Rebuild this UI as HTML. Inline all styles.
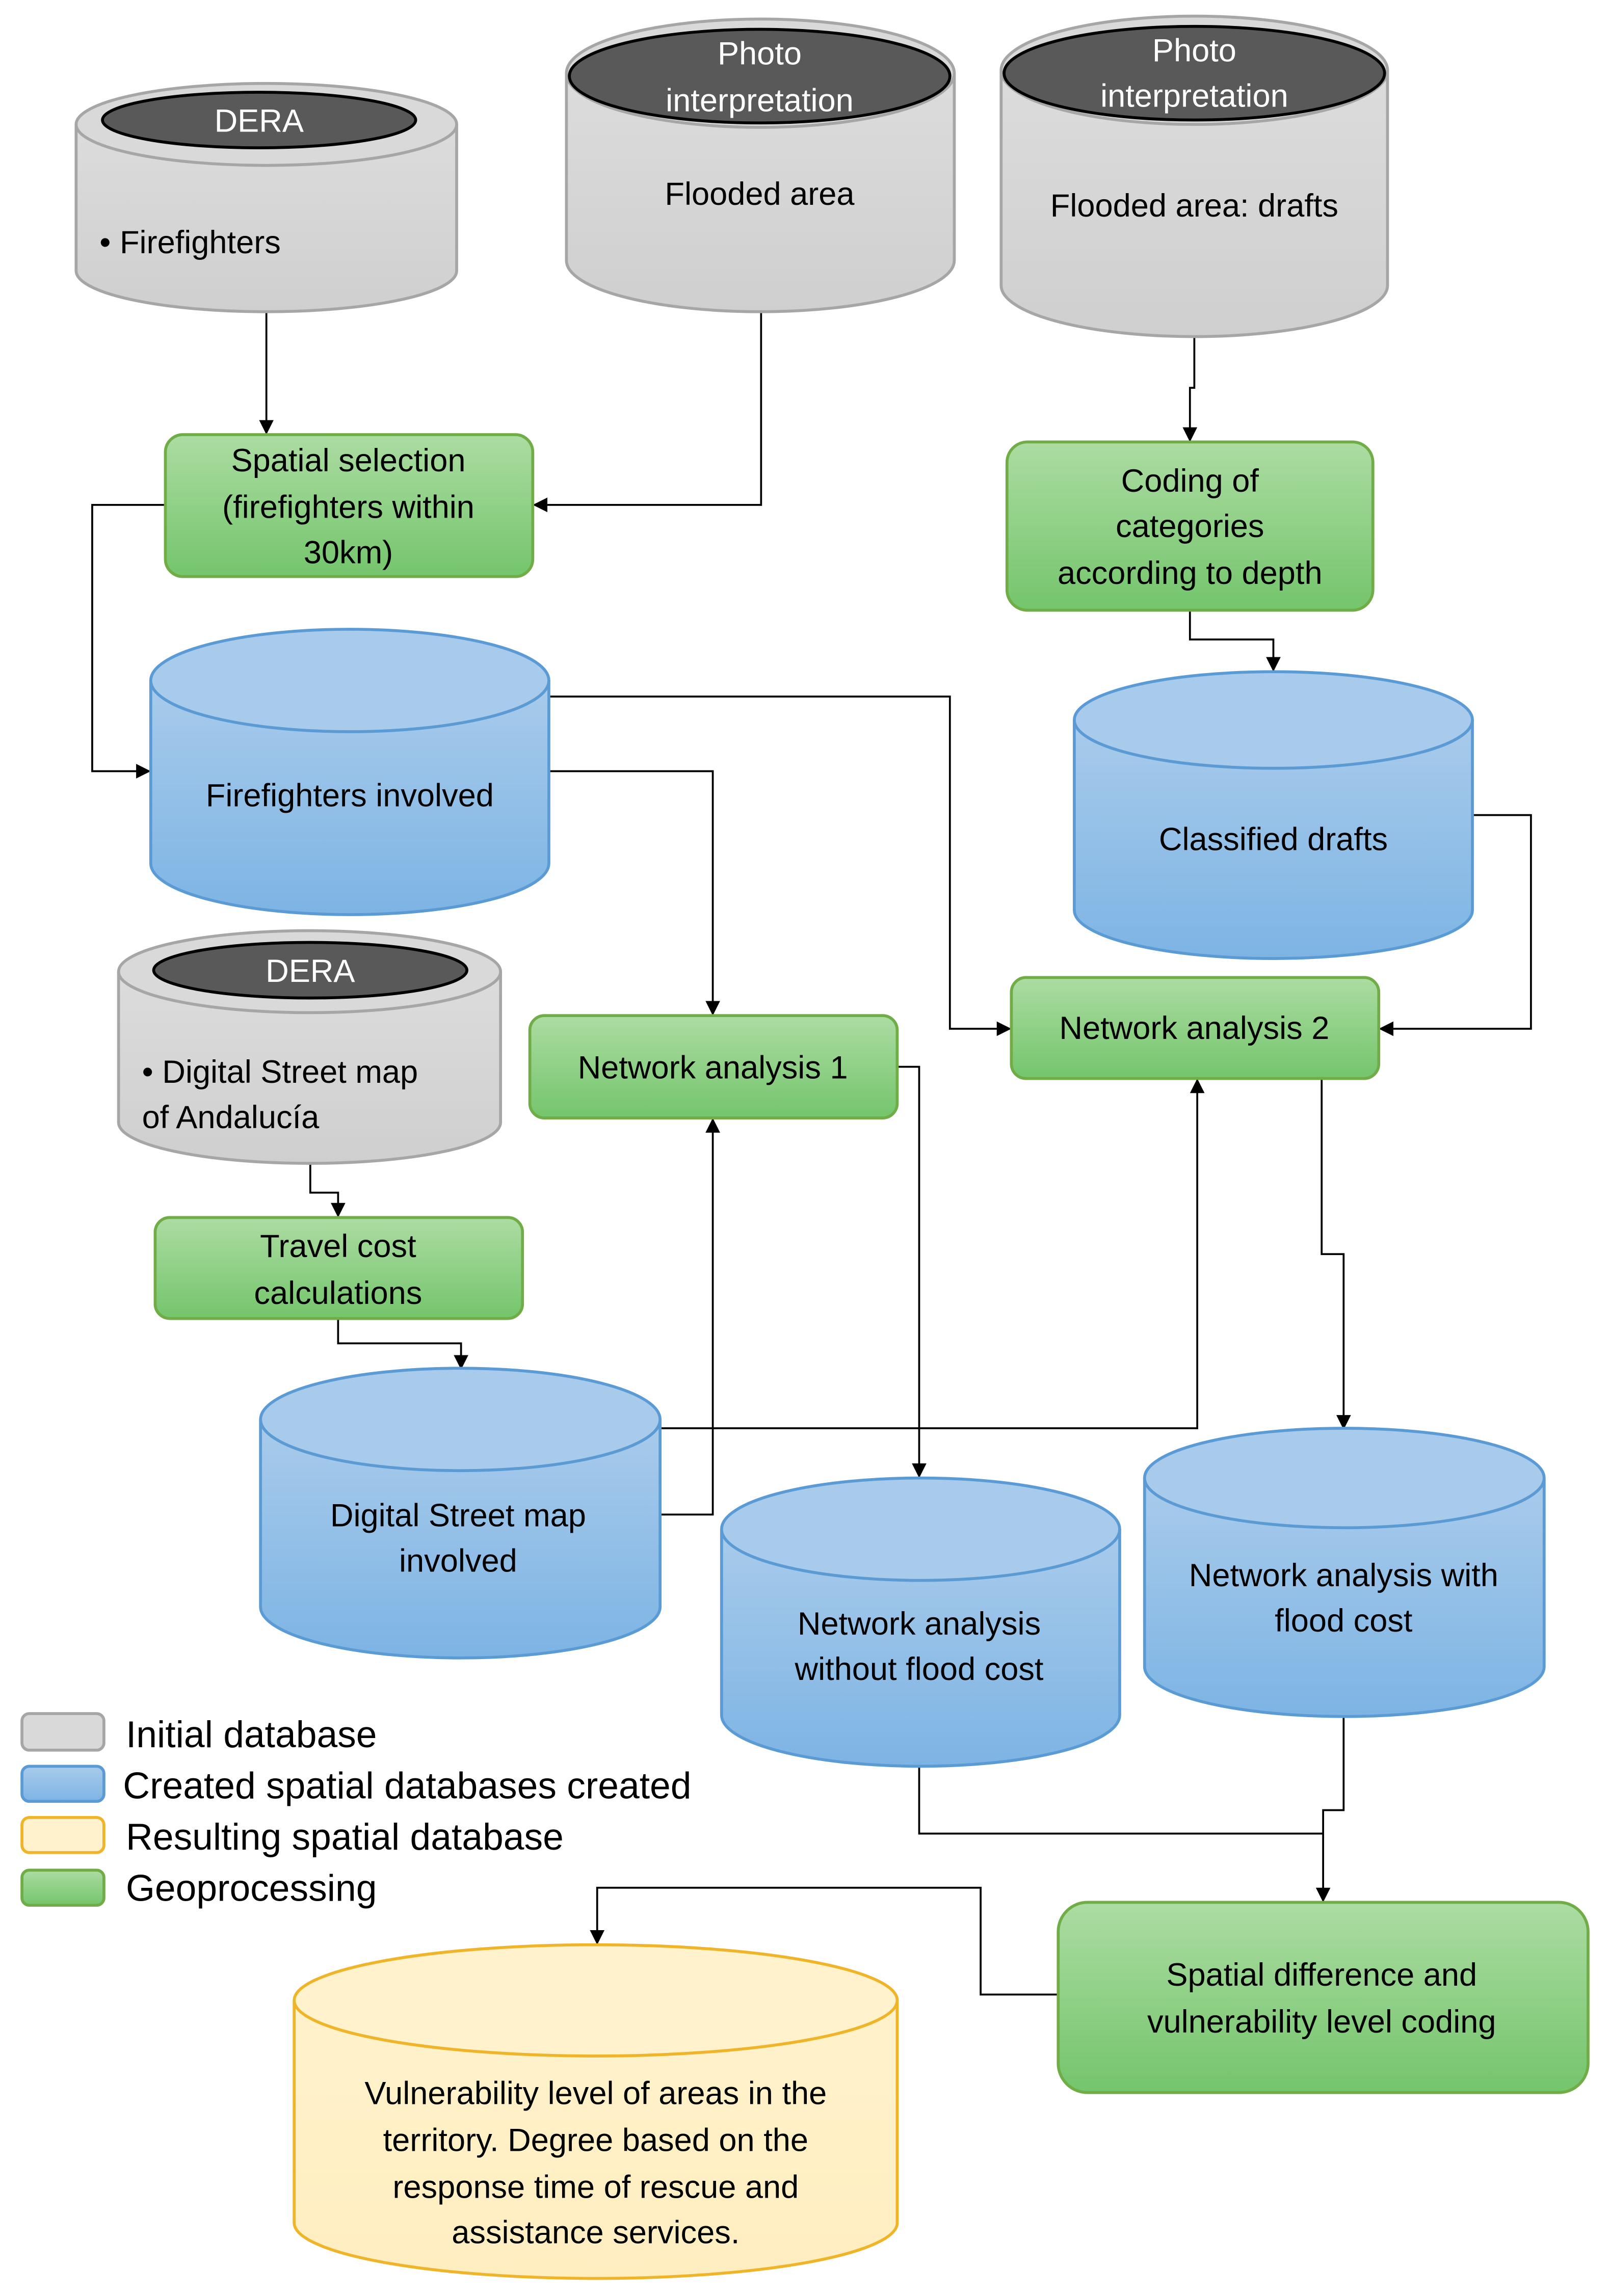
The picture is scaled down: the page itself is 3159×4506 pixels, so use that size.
<!DOCTYPE html>
<html><head><meta charset="utf-8">
<style>
html,body{margin:0;padding:0;background:#fff;}
svg{display:block;}
text{font-family:"Liberation Sans",sans-serif;font-size:22px;fill:#000;text-anchor:middle;}
</style></head>
<body>
<svg width="3159" height="4506" viewBox="0 0 1100 1569" xmlns="http://www.w3.org/2000/svg">
<defs>
<linearGradient id="gray" x1="0" y1="0" x2="0" y2="1"><stop offset="0" stop-color="#dcdcdc"/><stop offset="1" stop-color="#cfcfcf"/></linearGradient>
<linearGradient id="blue" x1="0" y1="0" x2="0" y2="1"><stop offset="0" stop-color="#a9cbeb"/><stop offset="1" stop-color="#7db4e4"/></linearGradient>
<linearGradient id="green" x1="0" y1="0" x2="0" y2="1"><stop offset="0" stop-color="#acdca2"/><stop offset="1" stop-color="#74c56c"/></linearGradient>
<linearGradient id="yel" x1="0" y1="0" x2="0" y2="1"><stop offset="0" stop-color="#fff2cc"/><stop offset="1" stop-color="#ffeec0"/></linearGradient>
<marker id="ar" markerWidth="10" markerHeight="10" refX="9" refY="5" orient="auto" markerUnits="userSpaceOnUse"><path d="M0,0 L10,5 L0,10 z" fill="#000"/></marker>
</defs>

<g fill="none" stroke="#000" stroke-width="1.3">
<path d="M182,213 V296" marker-end="url(#ar)"/>
<path d="M520,213 V345 H365" marker-end="url(#ar)"/>
<path d="M113,345 H63 V527 H102" marker-end="url(#ar)"/>
<path d="M816,230 V265 H813 V301" marker-end="url(#ar)"/>
<path d="M813,417 V437 H870 V458" marker-end="url(#ar)"/>
<path d="M375,476 H649 V703 H690" marker-end="url(#ar)"/>
<path d="M375,527 H487 V693" marker-end="url(#ar)"/>
<path d="M1006,557 H1046 V703 H943" marker-end="url(#ar)"/>
<path d="M212,795 V815 H231 V831" marker-end="url(#ar)"/>
<path d="M231,901 V918 H315 V935" marker-end="url(#ar)"/>
<path d="M451,976 H818 V738" marker-end="url(#ar)"/>
<path d="M451,1035 H487 V765" marker-end="url(#ar)"/>
<path d="M613,729 H628 V1009" marker-end="url(#ar)"/>
<path d="M903,737 V857 H918 V976" marker-end="url(#ar)"/>
<path d="M628,1207 V1253 H904 V1299" marker-end="url(#ar)"/>
<path d="M918,1173 V1237 H904 V1253"/>
<path d="M723,1363 H670 V1290 H408 V1328" marker-end="url(#ar)"/>
</g>

<g stroke="#a6a6a6" stroke-width="2">
<path d="M52,85 V185 A130,28 0 0 0 312,185 V85" fill="url(#gray)"/>
<ellipse cx="182" cy="85" rx="130" ry="28" fill="#d9d9d9"/>
<path d="M387,50 V178 A132.5,35 0 0 0 652,178 V50" fill="url(#gray)"/>
<ellipse cx="519.5" cy="50" rx="132.5" ry="37" fill="#d9d9d9"/>
<path d="M684,48 V195 A132,35 0 0 0 948,195 V48" fill="url(#gray)"/>
<ellipse cx="816" cy="48" rx="132" ry="37" fill="#d9d9d9"/>
<path d="M81,664 V767 A130.5,28 0 0 0 342,767 V664" fill="url(#gray)"/>
<ellipse cx="211.5" cy="664" rx="130.5" ry="28" fill="#d9d9d9"/>
</g>
<g fill="#595959" stroke="#000" stroke-width="2">
<ellipse cx="177" cy="82" rx="107" ry="19"/>
<ellipse cx="519" cy="52" rx="130" ry="32"/>
<ellipse cx="816" cy="50" rx="130" ry="32"/>
<ellipse cx="212" cy="663" rx="107" ry="19"/>
</g>
<text x="177" y="90" style="fill:#fff">DERA</text>
<text x="519" y="44" style="fill:#fff">Photo</text>
<text x="519" y="76" style="fill:#fff">interpretation</text>
<text x="816" y="42" style="fill:#fff">Photo</text>
<text x="816" y="73" style="fill:#fff">interpretation</text>
<text x="212" y="671" style="fill:#fff">DERA</text>
<text x="68" y="173" style="text-anchor:start">• Firefighters</text>
<text x="519" y="140">Flooded area</text>
<text x="816" y="148">Flooded area: drafts</text>
<text x="97" y="740" style="text-anchor:start">• Digital Street map</text>
<text x="97" y="771" style="text-anchor:start">of Andalucía</text>

<g stroke="#5b9bd5" stroke-width="2">
<path d="M103,465 V590 A136,35 0 0 0 375,590 V465" fill="url(#blue)"/>
<ellipse cx="239" cy="465" rx="136" ry="35" fill="#a9cbeb"/>
<path d="M734,492 V622 A136,33 0 0 0 1006,622 V492" fill="url(#blue)"/>
<ellipse cx="870" cy="492" rx="136" ry="33" fill="#a9cbeb"/>
<path d="M178,970 V1098 A136.5,35 0 0 0 451,1098 V970" fill="url(#blue)"/>
<ellipse cx="314.5" cy="970" rx="136.5" ry="35" fill="#a9cbeb"/>
<path d="M493,1045 V1172 A136,35 0 0 0 765,1172 V1045" fill="url(#blue)"/>
<ellipse cx="629" cy="1045" rx="136" ry="35" fill="#a9cbeb"/>
<path d="M782,1010 V1139 A136.5,34 0 0 0 1055,1139 V1010" fill="url(#blue)"/>
<ellipse cx="918.5" cy="1010" rx="136.5" ry="34" fill="#a9cbeb"/>
</g>
<text x="239" y="551">Firefighters involved</text>
<text x="870" y="581">Classified drafts</text>
<text x="313" y="1043">Digital Street map</text>
<text x="313" y="1074">involved</text>
<text x="628" y="1117">Network analysis</text>
<text x="628" y="1148">without flood cost</text>
<text x="918" y="1084">Network analysis with</text>
<text x="918" y="1115">flood cost</text>

<g stroke="#f0b429" stroke-width="2">
<path d="M201,1367 V1519 A206,38 0 0 0 613,1519 V1367" fill="url(#yel)"/>
<ellipse cx="407" cy="1367" rx="206" ry="38" fill="#fff2cc"/>
</g>
<text x="407" y="1438">Vulnerability level of areas in the</text>
<text x="407" y="1470">territory. Degree based on the</text>
<text x="407" y="1502">response time of rescue and</text>
<text x="407" y="1533">assistance services.</text>

<g fill="url(#green)" stroke="#70ad47" stroke-width="2">
<rect x="113" y="297" width="251" height="97" rx="12"/>
<rect x="688" y="302" width="250" height="115" rx="14"/>
<rect x="362" y="694" width="251" height="70" rx="10"/>
<rect x="691" y="668" width="251" height="69" rx="10"/>
<rect x="106" y="832" width="251" height="69" rx="10"/>
<rect x="723" y="1300" width="362" height="130" rx="20"/>
</g>
<text x="238" y="322">Spatial selection</text>
<text x="238" y="354">(firefighters within</text>
<text x="238" y="385">30km)</text>
<text x="813" y="336">Coding of</text>
<text x="813" y="367">categories</text>
<text x="813" y="399">according to depth</text>
<text x="487" y="737">Network analysis 1</text>
<text x="816" y="710">Network analysis 2</text>
<text x="231" y="859">Travel cost</text>
<text x="231" y="891">calculations</text>
<text x="903" y="1357">Spatial difference and</text>
<text x="903" y="1389">vulnerability level coding</text>

<rect x="15" y="1171" width="56" height="25" rx="5" fill="#d9d9d9" stroke="#a6a6a6" stroke-width="2"/>
<rect x="15" y="1207" width="56" height="24" rx="5" fill="url(#blue)" stroke="#5b9bd5" stroke-width="2"/>
<rect x="15" y="1242" width="56" height="24" rx="5" fill="#fff2cc" stroke="#f0b429" stroke-width="2"/>
<rect x="15" y="1278" width="56" height="24" rx="5" fill="url(#green)" stroke="#70ad47" stroke-width="2"/>
<text x="86" y="1194" style="text-anchor:start;font-size:25.5px">Initial database</text>
<text x="84" y="1229" style="text-anchor:start;font-size:25.5px">Created spatial databases created</text>
<text x="86" y="1264" style="text-anchor:start;font-size:25.5px">Resulting spatial database</text>
<text x="86" y="1299" style="text-anchor:start;font-size:25.5px">Geoprocessing</text>
</svg>
</body></html>
